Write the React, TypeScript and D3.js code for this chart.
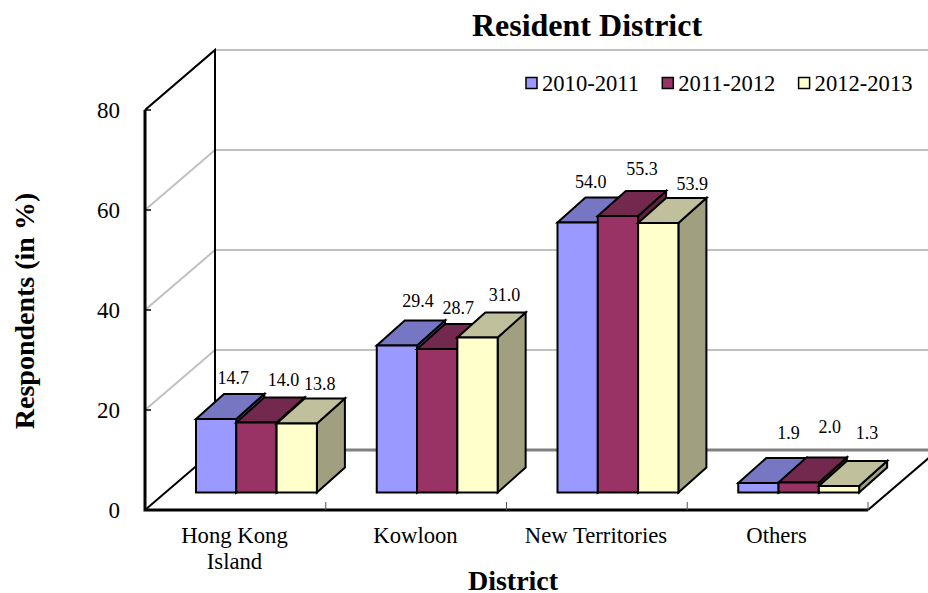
import React from "react";
import * as d3 from "d3";

const categories = [["Hong Kong", "Island"], ["Kowloon"], ["New Territories"], ["Others"]];
const seriesNames = ["2010-2011", "2011-2012", "2012-2013"];
const s2010 = [14.7, 29.4, 54.0, 1.9];
const s2011 = [14.0, 28.7, 55.3, 2.0];
const s2012 = [13.8, 31.0, 53.9, 1.3];
const seriesValues = [s2010, s2011, s2012];
const yTicks = [0, 20, 40, 60, 80];

const frontFill = ["#9999FF", "#993366", "#FFFFCC"];
const topFill = ["#7676C2", "#73294D", "#C0C09C"];
const sideFill = ["#5F5F9F", "#5F2040", "#A0A080"];

// label nudges (px), per series then category, relative to bar's top-centre
const labelDx = [[17, 21, 13, 30], [27, 21, 24, 31], [23, 27, 34, 28]];
const labelDy = [[-39, -43, -39, -48], [-41, -39, -45, -54], [-38, -41, -37, -51]];

const W = 928, H = 593;
const left = 145, right = 868, base = 510, top = 110;
const wallDx = 70, wallDy = -60;
const barDx = 28, barDy = -25;
const frontDy = -17.5;
const barInset = 51;

const x = d3.scaleBand<number>().domain([0, 1, 2, 3]).range([left, right]);
const y = d3.scaleLinear().domain([0, 80]).range([base, top]);
const barW = 40.3;
const serif = "'Liberation Serif', 'Times New Roman', serif";

const poly = (pts: [number, number][]) => d3.line()(pts)! + "Z";

export default function App() {
  const bars: React.ReactNode[] = [];
  const labels: React.ReactNode[] = [];
  categories.forEach((_, c) => {
    const x0 = x(c)! + barInset;
    seriesValues.forEach((vals, s) => {
      const xl = x0 + s * barW;
      const xr = xl + barW;
      const yb = y(0) + frontDy;
      const yt = y(vals[c]) + frontDy;
      const common = { stroke: "#000", strokeWidth: 2, strokeLinejoin: "miter" as const };
      bars.push(
        <g key={`${c}-${s}`}>
          <path d={poly([[xr, yb], [xr + barDx, yb + barDy], [xr + barDx, yt + barDy], [xr, yt]])} fill={sideFill[s]} {...common} />
          <path d={poly([[xl, yt], [xl + barDx, yt + barDy], [xr + barDx, yt + barDy], [xr, yt]])} fill={topFill[s]} {...common} />
          <rect x={xl} y={yt} width={barW} height={yb - yt} fill={frontFill[s]} {...common} />
        </g>
      );
      labels.push(
        <text key={`${c}-${s}`} x={xl + barW / 2 + labelDx[s][c]} y={yt + labelDy[s][c]} textAnchor="middle" dominantBaseline="middle" fontSize={18} fill="#000">
          {vals[c].toFixed(1)}
        </text>
      );
    });
  });

  return (
    <svg width={W} height={H} viewBox={`0 0 ${W} ${H}`} style={{ position: "absolute", left: 0, top: 0, fontFamily: serif, background: "#fff" }}>
      {yTicks.slice(1).map((t) => (
        <path key={t} d={`M${left},${y(t)}L${left + wallDx},${y(t) + wallDy}L${W},${y(t) + wallDy}`} fill="none" stroke="#C0C0C0" strokeWidth={2} />
      ))}
      <path d={`M${left + wallDx},${y(0) + wallDy}L${W},${y(0) + wallDy}`} stroke="#808080" strokeWidth={3} />
      <path d={`M${left},${y(80)}L${left + wallDx},${y(80) + wallDy}L${left + wallDx},${y(0) + wallDy}`} fill="none" stroke="#000" strokeWidth={2} />
      <path d={`M${left},${base}L${left + wallDx},${base + wallDy}`} stroke="#000" strokeWidth={2} />
      <path d={`M${right},${base}L${right + wallDx},${base + wallDy}`} stroke="#000" strokeWidth={2} />
      <path d={`M${left},${top}V${base}H${right}`} fill="none" stroke="#000" strokeWidth={3} />
      {yTicks.map((t) => (
        <g key={t}>
          <line x1={left} x2={left + 6} y1={y(t)} y2={y(t)} stroke="#000" strokeWidth={1.5} />
          <text x={120} y={y(t) + 2.5} textAnchor="end" dominantBaseline="middle" fontSize={23} fill="#000">{t}</text>
        </g>
      ))}
      {[1, 2, 3, 4].map((i) => (
        <line key={i} x1={left + i * x.bandwidth()} x2={left + i * x.bandwidth()} y1={base} y2={base - 8} stroke="#555" strokeWidth={1} />
      ))}
      {bars}
      {labels}
      {categories.map((lines, c) => (
        <text key={c} y={538} textAnchor="middle" dominantBaseline="middle" fontSize={22.7} fill="#000">
          {lines.map((l, i) => (
            <tspan key={i} x={[234.5, 415.5, 596, 776.5][c]} dy={i === 0 ? 0 : 26}>{l}</tspan>
          ))}
        </text>
      ))}
      <text x={587} y={29} textAnchor="middle" dominantBaseline="middle" fontSize={32} fontWeight="bold" fill="#000">Resident District</text>
      <text x={513} y={584} textAnchor="middle" dominantBaseline="middle" fontSize={28} fontWeight="bold" fill="#000">District</text>
      <text transform="translate(28,311) rotate(-90)" textAnchor="middle" dominantBaseline="middle" fontSize={28} fontWeight="bold" fill="#000">Respondents (in %)</text>
      {seriesNames.map((n, i) => {
        const lx = 526 + i * 136.3;
        return (
          <g key={n}>
            <rect x={lx} y={77.5} width={11} height={11} fill={frontFill[i]} stroke="#000" strokeWidth={1.5} />
            <text x={lx + 16} y={85.5} dominantBaseline="middle" fontSize={22.6} fill="#000">{n}</text>
          </g>
        );
      })}
    </svg>
  );
}
